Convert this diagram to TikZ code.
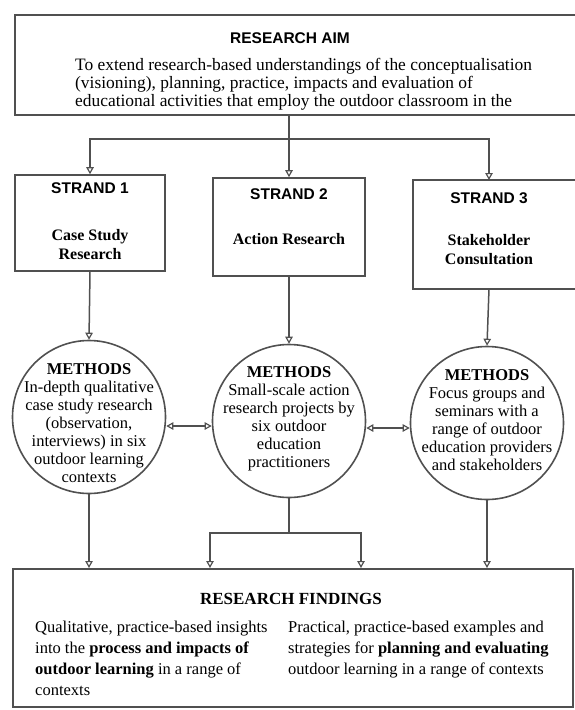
\documentclass[tikz,border=0pt]{standalone}
\usepackage{fontspec}
\setmainfont{Liberation Serif}
\newfontfamily\arialf{Liberation Sans}
\usetikzlibrary{arrows.meta}
\definecolor{lc}{RGB}{80,80,80}
\begin{document}
\begin{tikzpicture}[x=1pt,y=-1pt,
  frame/.style={draw=lc, line width=1.6pt, inner sep=0pt},
  conn/.style={draw=lc, line width=1.5pt},
  tip/.tip={Triangle[open, length=7pt, width=7.5pt, line width=1.2pt]},
  arr/.style={conn, -tip},
  dblarr/.style={conn, tip-tip},
  sanstitle/.style={font=\arialf\bfseries\fontsize{15.5}{18}\selectfont},
  strandtxt/.style={font=\bfseries\fontsize{16}{19}\selectfont, align=center},
  methods/.style={circle, draw=lc, line width=1.6pt, minimum size=153pt, inner sep=0pt},
  mtext/.style={align=center, inner sep=0pt, font=\fontsize{16.5}{18}\selectfont},
  body/.style={align=left, inner sep=0pt, anchor=north west}
]
\path[use as bounding box] (0,0) rectangle (574,710);

% research aim box
\draw[frame] (595,15) -- (15,15) -- (15,115) -- (595,115);
\coordinate (aimS) at (289,115);
\node[sanstitle] (aimtitle) at (290,38) {RESEARCH AIM};
\node[body, font=\fontsize{17.4}{18.2}\selectfont] (aimtext) at (75,58)
  {To extend research-based understandings of the conceptualisation\\
   (visioning), planning, practice, impacts and evaluation of\\
   educational activities that employ the outdoor classroom in the};

% strands
\node[frame, minimum width=150pt, minimum height=96pt] (s1) at (90,223) {};
\node[frame, minimum width=152pt, minimum height=98pt] (s2) at (289,227) {};
\draw[frame] (595,180) -- (413,180) -- (413,289) -- (595,289);
\coordinate (s3n) at (489,180);
\coordinate (s3s) at (489,289);

\node[sanstitle] (s1t) at (90,188) {STRAND 1};
\node[strandtxt] (s1x) at (90,245) {Case Study\\Research};
\node[sanstitle] (s2t) at (289,194) {STRAND 2};
\node[strandtxt] (s2x) at (289,239) {Action Research};
\node[sanstitle] (s3t) at (489,198) {STRAND 3};
\node[strandtxt] (s3x) at (489,250) {Stakeholder\\Consultation};

% aim -> strands
\coordinate (hy) at (289,139);
\draw[conn] (aimS) -- (hy);
\draw[arr] (hy) -- (s2.north);
\draw[arr] (hy) -| (s1.north);
\draw[arr] (hy) -| (s3n);

% methods circles
\node[methods] (m1) at (89,417) {};
\node[methods] (m2) at (289,421) {};
\node[methods] (m3) at (487,423) {};
\node[mtext] (m1t) at (89,423) {\textbf{METHODS}\\In-depth qualitative\\case study research\\(observation,\\interviews) in six\\outdoor learning\\contexts};
\node[mtext] (m2t) at (289,419) {\textbf{METHODS}\\Small-scale action\\research projects by\\six outdoor\\education\\practitioners};
\node[mtext] (m3t) at (487,420) {\textbf{METHODS}\\Focus groups and\\seminars with a\\range of outdoor\\education providers\\and stakeholders};

\draw[arr] (s1.south) -- (m1.north);
\draw[arr] (s2.south) -- (m2.north);
\draw[arr] (s3s) -- (m3.north);

\draw[dblarr] (m1.east |- 0,426) -- (m2.west |- 0,426);
\draw[dblarr] (m2.east |- 0,428) -- (m3.west |- 0,428);

% findings box
\node[frame, anchor=north west, minimum width=560pt, minimum height=138pt] (find) at (12,568) {};
\node[font=\bfseries\fontsize{17}{20}\selectfont] (findt) at (291,599) {RESEARCH FINDINGS};
\node[body, font=\fontsize{16.5}{21}\selectfont] (f1) at (35,621)
  {Qualitative, practice-based insights\\
   into the \textbf{process and impacts of}\\
   \textbf{outdoor learning} in a range of\\
   contexts};
\node[body, font=\fontsize{16.5}{21}\selectfont] (f2) at (288,621)
  {Practical, practice-based examples and\\
   strategies for \textbf{planning and evaluating}\\
   outdoor learning in a range of contexts};

% methods -> findings
\coordinate (by) at (0,533);
\draw[arr] (m1.south) -- (m1.south |- find.north);
\draw[conn] (m2.south) -- (m2.south |- by);
\draw[arr] (m2.south |- by) -| (210,568);
\draw[arr] (m2.south |- by) -| (361,568);
\draw[arr] (m3.south) -- (m3.south |- find.north);
\end{tikzpicture}
\end{document}
